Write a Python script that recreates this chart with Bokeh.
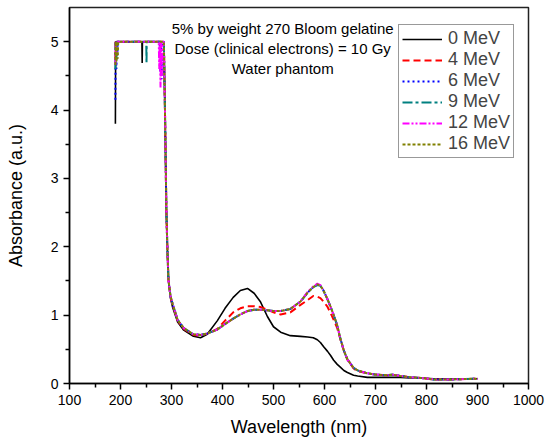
from bokeh.plotting import figure
from bokeh.models import Legend, LegendItem, FixedTicker, Range1d
from bokeh.core.properties import value
from bokeh.embed import file_html
from bokeh.resources import INLINE

# ---- data ----
wl_tail = [285, 287, 288.5, 290, 292, 294, 298, 302, 312, 324, 343, 357, 370, 390, 405,
           421, 435, 449, 462, 474, 488, 500, 514, 533, 553, 567, 578, 586, 592, 598,
           606, 612, 618, 625, 631, 638, 645, 657, 665, 684, 700, 723, 733, 749, 769,
           790, 814, 850, 900]

tail_0 = [5.0, 4.1, 3.3, 2.5, 1.95, 1.52, 1.25, 1.12, 0.90, 0.78,
          0.69, 0.67, 0.72, 0.92, 1.10, 1.26, 1.36, 1.39, 1.32, 1.20,
          0.98, 0.83, 0.75, 0.70, 0.69, 0.68, 0.67, 0.64, 0.60, 0.54,
          0.47, 0.41, 0.34, 0.28, 0.24, 0.19, 0.16, 0.12, 0.11, 0.09,
          0.09, 0.09, 0.09, 0.09, 0.08, 0.08, 0.07, 0.07, 0.07]
tail_4 = [5.0, 4.1, 3.3, 2.5, 1.95, 1.52, 1.27, 1.15, 0.92, 0.80,
          0.71, 0.70, 0.73, 0.80, 0.92, 1.04, 1.10, 1.13, 1.13, 1.12,
          1.08, 1.04, 1.01, 1.04, 1.15, 1.22, 1.28, 1.27, 1.25, 1.20,
          1.12, 1.03, 0.93, 0.81, 0.65, 0.48, 0.35, 0.22, 0.18, 0.15,
          0.13, 0.12, 0.13, 0.11, 0.09, 0.08, 0.06, 0.06, 0.07]
tail_6 = [5.0, 4.1, 3.3, 2.5, 1.95, 1.52, 1.28, 1.17, 0.93, 0.81,
          0.72, 0.71, 0.73, 0.79, 0.87, 0.95, 1.01, 1.06, 1.08, 1.08,
          1.07, 1.06, 1.06, 1.09, 1.20, 1.33, 1.41, 1.45, 1.43, 1.36,
          1.23, 1.12, 1.00, 0.85, 0.66, 0.48, 0.35, 0.23, 0.19, 0.15,
          0.13, 0.12, 0.13, 0.11, 0.09, 0.08, 0.06, 0.06, 0.07]
tail_9 = [5.0, 4.1, 3.3, 2.5, 1.95, 1.52, 1.28, 1.17, 0.93, 0.81,
          0.72, 0.71, 0.73, 0.79, 0.87, 0.95, 1.01, 1.06, 1.08, 1.08,
          1.07, 1.06, 1.06, 1.09, 1.20, 1.33, 1.41, 1.44, 1.43, 1.36,
          1.23, 1.12, 1.00, 0.85, 0.66, 0.48, 0.35, 0.23, 0.19, 0.15,
          0.13, 0.12, 0.13, 0.11, 0.09, 0.08, 0.06, 0.06, 0.07]
tail_12 = [5.0, 4.1, 3.3, 2.5, 1.95, 1.52, 1.28, 1.17, 0.93, 0.81,
           0.72, 0.71, 0.73, 0.79, 0.87, 0.95, 1.01, 1.06, 1.08, 1.08,
           1.07, 1.06, 1.06, 1.09, 1.20, 1.34, 1.42, 1.46, 1.44, 1.36,
           1.23, 1.12, 1.00, 0.85, 0.66, 0.48, 0.35, 0.23, 0.19, 0.15,
           0.13, 0.12, 0.13, 0.11, 0.09, 0.08, 0.06, 0.06, 0.07]
tail_16 = [5.0, 4.1, 3.3, 2.5, 1.95, 1.52, 1.28, 1.17, 0.93, 0.81,
           0.72, 0.71, 0.73, 0.79, 0.87, 0.95, 1.01, 1.06, 1.08, 1.08,
           1.07, 1.06, 1.06, 1.09, 1.20, 1.33, 1.41, 1.45, 1.43, 1.36,
           1.23, 1.12, 1.00, 0.85, 0.66, 0.48, 0.35, 0.23, 0.19, 0.15,
           0.13, 0.12, 0.13, 0.11, 0.09, 0.08, 0.06, 0.06, 0.07]

# saturated (detector-limited) start of each spectrum
head_wl_0 = [190, 190.5, 242, 242.5, 243, 283]
head_0 = [3.80, 5.0, 5.0, 4.69, 5.0, 5.0]
head_wl_4 = [190, 190.5, 191.5, 192, 283]
head_4 = [4.75, 5.0, 4.85, 5.0, 5.0]
head_wl_6 = [190, 190.5, 192, 193, 194, 194.5, 277, 278, 279.5, 280.5, 282, 283]
head_6 = [4.15, 5.0, 4.6, 5.0, 4.8, 5.0, 5.0, 4.55, 5.0, 4.45, 5.0, 5.0]
head_wl_9 = [190, 190.5, 192, 193, 250.5, 251, 251.5, 283]
head_9 = [4.6, 5.0, 4.75, 5.0, 5.0, 4.68, 5.0, 5.0]
head_wl_12 = [190, 190.5, 192, 193, 275, 276, 277, 278.5, 279.5, 281, 282, 283]
head_12 = [4.66, 5.0, 4.8, 5.0, 5.0, 4.6, 5.0, 4.33, 5.0, 4.5, 5.0, 5.0]
head_wl_16 = [190, 190.5, 192, 193, 194.5, 195.5, 283]
head_16 = [4.66, 5.0, 4.7, 5.0, 4.75, 5.0, 5.0]

series_labels = ["0 MeV", "4 MeV", "6 MeV", "9 MeV", "12 MeV", "16 MeV"]
series_colors = ["#000000", "#FF0000", "#0000FF", "#008080", "#FF00FF", "#808000"]
series_dashes = ["solid", "7 4", "2 3", "10 3 3 3", "7 2 2 2 2 2", "3 2"]
series_widths = [1.6, 2, 2, 2, 2, 2]

x_ticks = [100, 200, 300, 400, 500, 600, 700, 800, 900, 1000]
y_ticks = [0, 1, 2, 3, 4, 5]

note_lines = ["5% by weight 270 Bloom gelatine",
              "Dose (clinical electrons) = 10 Gy",
              "Water phantom"]
note_x = [518, 518, 518]
note_y = [5.19, 4.90, 4.61]

heads_wl = [head_wl_0, head_wl_4, head_wl_6, head_wl_9, head_wl_12, head_wl_16]
heads = [head_0, head_4, head_6, head_9, head_12, head_16]
tails = [tail_0, tail_4, tail_6, tail_9, tail_12, tail_16]

FONT = "Liberation Sans"

p = figure(width=545, height=439, output_backend="svg", toolbar_location=None,
           x_range=Range1d(100, 1000), y_range=Range1d(0, 5.5),
           min_border_left=69, min_border_right=17, min_border_top=7,
           min_border_bottom=56)
p.xgrid.visible = False
p.ygrid.visible = False
p.outline_line_color = "#222222"
p.outline_line_width = 1.5
p.background_fill_color = "white"
p.border_fill_color = "white"

items = []
for i in range(6):
    r = p.line(heads_wl[i] + wl_tail, heads[i] + tails[i],
               line_color=series_colors[i], line_dash=series_dashes[i],
               line_width=series_widths[i])
    items.append(LegendItem(label=series_labels[i], renderers=[r]))

p.text(x=note_x, y=note_y, text=note_lines, text_font=value(FONT),
       text_font_size="15px", text_align="center", text_baseline="middle",
       text_color="black")

for ax, ticks in ((p.xaxis[0], x_ticks), (p.yaxis[0], y_ticks)):
    ax.ticker = FixedTicker(ticks=ticks,
                            minor_ticks=[t + (ticks[1] - ticks[0]) / 2 for t in ticks[:-1]])
    ax.axis_line_color = "black"
    ax.axis_line_width = 1.5
    ax.major_tick_line_color = "black"
    ax.minor_tick_line_color = "black"
    ax.major_tick_line_width = 1.5
    ax.minor_tick_line_width = 1.5
    ax.major_tick_out = 6
    ax.major_tick_in = 0
    ax.minor_tick_out = 4
    ax.minor_tick_in = 0
    ax.major_label_text_font = FONT
    ax.major_label_text_font_size = "14px"
    ax.major_label_text_color = "black"
    ax.axis_label_text_font = FONT
    ax.axis_label_text_font_size = "18px"
    ax.axis_label_text_font_style = "normal"
    ax.axis_label_text_color = "black"

p.xaxis.axis_label = "Wavelength (nm)"
p.yaxis.axis_label = "Absorbance (a.u.)"
p.xaxis.axis_label_standoff = 9
p.yaxis.axis_label_standoff = 22

legend = Legend(items=items, location=(329, 225), padding=3, spacing=0,
                glyph_width=40, glyph_height=20, label_height=20,
                label_standoff=6, label_text_font=FONT,
                label_text_font_size="18px", label_text_baseline="middle",
                border_line_color="#333333", border_line_width=1,
                background_fill_alpha=1, margin=0)
p.add_layout(legend)

open("out.html", "w").write(file_html(p, INLINE))
